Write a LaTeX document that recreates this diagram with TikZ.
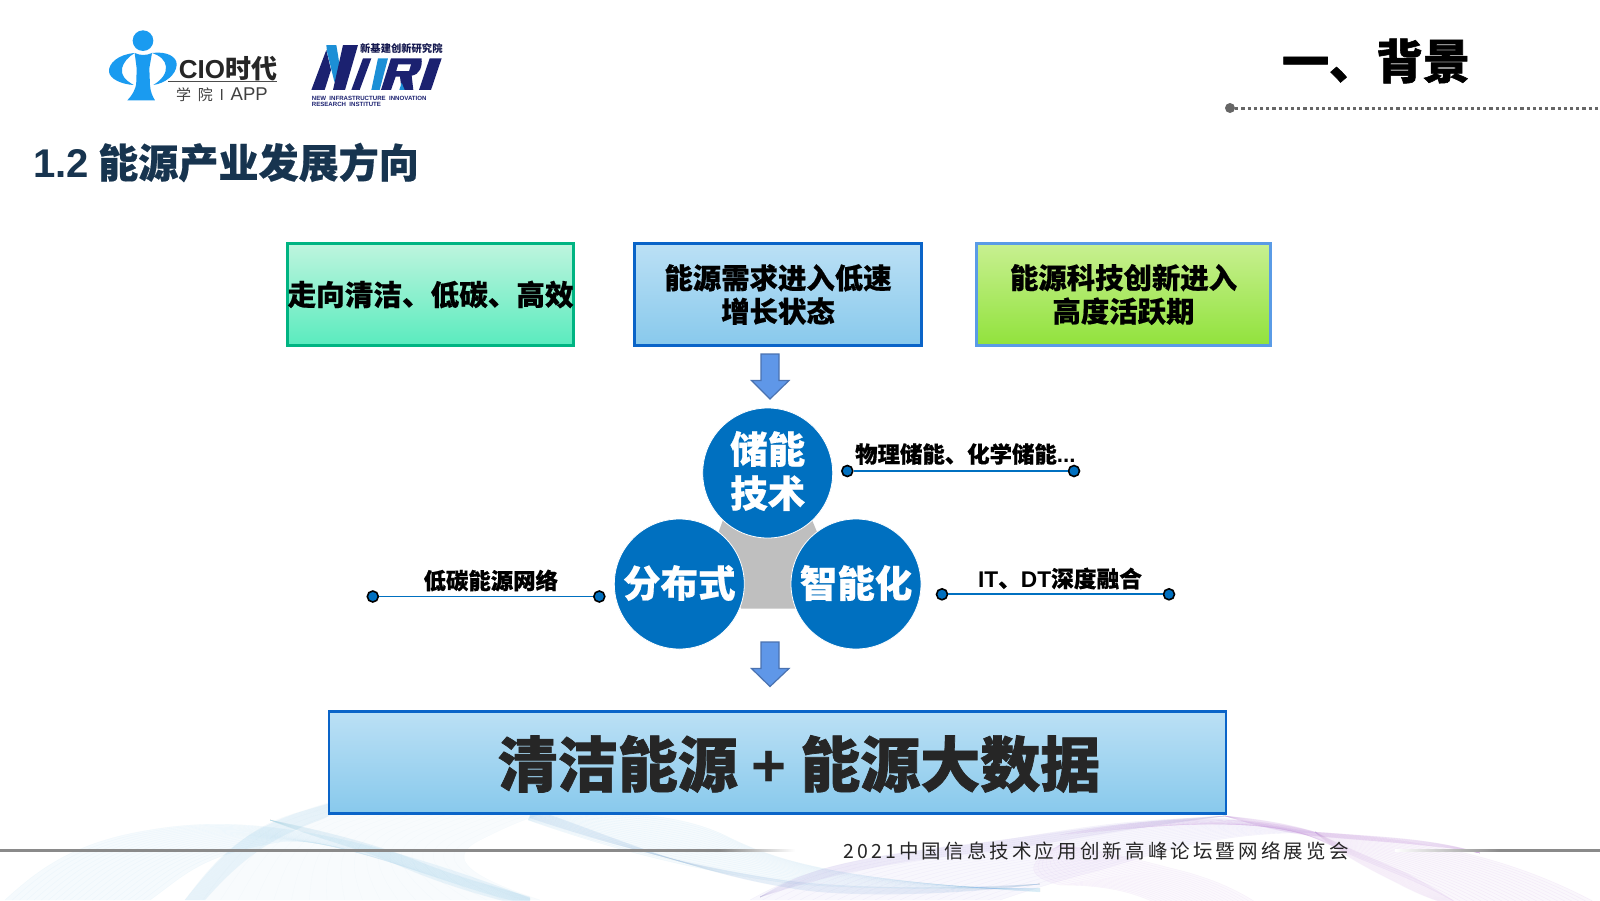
\documentclass[tikz,border=0pt]{standalone}
\usepackage{fontspec}
\usetikzlibrary{calc}
\setmainfont{Noto Sans CJK SC}
\newfontfamily\lat{Liberation Sans}
\newfontfamily\heavy{Noto Sans CJK SC}[BoldFeatures={FakeBold=1.2}]
\newfontfamily\semi{Noto Sans CJK SC}[BoldFeatures={FakeBold=.5}]
\newfontfamily\spaced{Noto Sans CJK SC}[LetterSpace=16]
\definecolor{navy}{HTML}{17344F}
\definecolor{cblue}{HTML}{0070C0}
\definecolor{logoblue}{HTML}{1A9BF0}
\definecolor{logonavy}{HTML}{1B2170}
\definecolor{logosky}{HTML}{1C8FD6}
\definecolor{wavea}{HTML}{7FC4EA}
\definecolor{waveb}{HTML}{A995E6}
\definecolor{wavec}{HTML}{C68FE0}
\definecolor{rulec}{HTML}{8A8A8A}
\definecolor{boxtopb}{HTML}{BBE0F5}
\definecolor{boxbotb}{HTML}{88C9EC}
\definecolor{boxedge}{HTML}{0A64C8}
\definecolor{arrowf}{HTML}{5F97E8}
\definecolor{arrowd}{HTML}{4A72B0}
\newcommand\curvepts[8]{%
  \coordinate (#1-1) at #2; \coordinate (#1-2) at #3; \coordinate (#1-3) at #4; \coordinate (#1-4) at #5;
  \coordinate (#1-5) at #6; \coordinate (#1-6) at #7; \coordinate (#1-7) at #8;}
% colour, curve a, curve b, fill opacity, line opacity
\newcommand\ribbon[5]{%
  \fill[#1,opacity=#4] (#2-1) .. controls (#2-2) and (#2-3) .. (#2-4) .. controls (#2-5) and (#2-6) .. (#2-7)
     -- (#3-7) .. controls (#3-6) and (#3-5) .. (#3-4) .. controls (#3-3) and (#3-2) .. (#3-1) -- cycle;
  \foreach \t in {0,0.05,...,1.001}{%
    \draw[#1,line width=.35pt,opacity=#5]
      ($(#2-1)!\t!(#3-1)$) .. controls ($(#2-2)!\t!(#3-2)$) and ($(#2-3)!\t!(#3-3)$) .. ($(#2-4)!\t!(#3-4)$)
      .. controls ($(#2-5)!\t!(#3-5)$) and ($(#2-6)!\t!(#3-6)$) .. ($(#2-7)!\t!(#3-7)$);}}
\tikzset{
  hd/.style={font=\semi\bfseries\fontsize{28.4}{34}\selectfont,align=center,inner sep=0pt},
  circ/.style={circle,fill=cblue,draw=white,line width=.8pt,minimum size=130pt,inner sep=0pt},
  circtext/.style={text=white,font=\semi\bfseries\fontsize{37.5}{45}\selectfont,align=center},
  lab/.style={font=\semi\bfseries\fontsize{22.4}{26}\selectfont,inner sep=0pt,text=black},
  dot/.style={circle,fill=cblue,draw=black,line width=1.6pt,minimum size=11pt,inner sep=0pt},
  dumb/.style={draw=cblue,line width=1.9pt},
  blockarrow/.style={fill=arrowf,draw=arrowd,line width=1.2pt,line join=miter},
  boxbase/.style={line width=2.6pt,minimum height=102pt,inner sep=0pt},
}
\begin{document}
\begin{tikzpicture}[x=1pt,y=-1pt]
\useasboundingbox (0,0) rectangle (1600,900);
\fill[white] (0,0) rectangle (1600,900);
\clip (0,0) rectangle (1600,900);

% ---- background waves: broad pale sheets
\curvepts{a1}{(5,900)}{(40,868)}{(75,842)}{(150,830)}{(220,818)}{(320,818)}{(530,898)}
\curvepts{a2}{(150,900)}{(185,875)}{(200,855)}{(280,842)}{(340,835)}{(440,885)}{(530,905)}
\ribbon{wavea}{a1}{a2}{.07}{.08}
\curvepts{b1}{(185,900)}{(222,855)}{(250,825)}{(300,812)}{(340,798)}{(400,782)}{(480,775)}
\curvepts{b2}{(540,900)}{(480,880)}{(440,860)}{(480,840)}{(500,830)}{(530,815)}{(560,810)}
\ribbon{wavea}{b1}{b2}{.05}{.04}
\curvepts{c1}{(530,815)}{(610,810)}{(680,812)}{(730,838)}{(780,862)}{(840,880)}{(1040,892)}
\curvepts{c2}{(528,820)}{(600,845)}{(680,868)}{(780,882)}{(830,889)}{(930,889)}{(1040,888)}
\ribbon{wavea}{c1}{c2}{.07}{.10}
\curvepts{e1}{(750,900)}{(800,872)}{(840,860)}{(950,847)}{(1050,836)}{(1100,818)}{(1225,818)}
\curvepts{e2}{(1000,900)}{(1030,890)}{(1060,880)}{(1100,870)}{(1150,855)}{(1220,830)}{(1320,833)}
\ribbon{waveb}{e1}{e2}{.07}{.10}
\curvepts{f1}{(1060,835)}{(1140,818)}{(1240,812)}{(1315,832)}{(1400,838)}{(1500,850)}{(1600,905)}
\curvepts{f2}{(1225,820)}{(1280,825)}{(1300,830)}{(1330,845)}{(1370,865)}{(1420,880)}{(1460,905)}
\ribbon{wavec}{f1}{f2}{.07}{.14}
\curvepts{g1}{(1060,845)}{(1100,850)}{(1140,860)}{(1170,868)}{(1200,875)}{(1230,885)}{(1260,905)}
\curvepts{g2}{(1060,845)}{(1030,860)}{(1020,875)}{(1060,885)}{(1100,885)}{(1130,890)}{(1160,905)}
\ribbon{wavec}{g1}{g2}{.06}{.10}
% ---- soft strands where the sheets gather
\curvepts{s1}{(185,900)}{(215,860)}{(240,832)}{(300,812)}{(320,806)}{(335,802)}{(350,797)}
\curvepts{s2}{(205,900)}{(240,860)}{(270,838)}{(320,820)}{(340,812)}{(345,804)}{(350,797)}
\ribbon{wavea}{s1}{s2}{.10}{.05}
\curvepts{s3}{(270,820)}{(320,830)}{(380,845)}{(420,862)}{(460,878)}{(500,888)}{(530,897)}
\curvepts{s4}{(270,820)}{(320,840)}{(360,848)}{(400,866)}{(450,888)}{(500,900)}{(530,908)}
\ribbon{wavea}{s3}{s4}{.10}{.05}
\curvepts{s5}{(530,818)}{(590,838)}{(670,862)}{(770,878)}{(830,888)}{(930,890)}{(1040,884)}
\curvepts{s6}{(530,808)}{(610,835)}{(690,872)}{(790,888)}{(830,896)}{(930,898)}{(1040,884)}
\ribbon{wavea!70!waveb}{s5}{s6}{.12}{.06}
\curvepts{s7}{(760,897)}{(800,872)}{(840,860)}{(950,846)}{(1040,837)}{(1100,822)}{(1225,816)}
\curvepts{s8}{(760,897)}{(815,880)}{(855,868)}{(950,856)}{(1040,847)}{(1100,832)}{(1225,816)}
\ribbon{waveb}{s7}{s8}{.08}{.05}
\curvepts{s9}{(1225,816)}{(1270,820)}{(1295,826)}{(1315,832)}{(1380,837)}{(1430,838)}{(1480,853)}
\curvepts{s10}{(1225,816)}{(1270,830)}{(1295,834)}{(1315,836)}{(1380,842)}{(1430,844)}{(1480,853)}
\ribbon{wavec}{s9}{s10}{.14}{.08}
\curvepts{s11}{(1315,832)}{(1350,850)}{(1390,865)}{(1410,875)}{(1425,883)}{(1440,892)}{(1456,902)}
\curvepts{s12}{(1315,832)}{(1340,855)}{(1375,872)}{(1395,882)}{(1410,890)}{(1425,897)}{(1441,902)}
\ribbon{wavec}{s11}{s12}{.10}{.05}

% ---- footer rule
\shade[left color=rulec,right color=rulec] (0,849) rectangle (720,851.2);
\shade[left color=rulec,right color=white] (720,849) rectangle (795,851.2);
\shade[left color=white,right color=rulec] (1395,849) rectangle (1500,851.2);
\shade[left color=rulec,right color=rulec] (1500,849) rectangle (1600,851.2);
\node[font=\spaced\fontsize{19.5}{22}\selectfont,text=black!85,inner sep=0pt,anchor=center] (footer) at (1096,851) {2021中国信息技术应用创新高峰论坛暨网络展览会};

% ---- CIO logo (coordinates of a 3x crop)
\begin{scope}[shift={(100,25)},x=.3333pt,y=-.3333pt]
  \fill[logoblue] (129,47) circle (31);
  \fill[logoblue] (104,84) .. controls (122,92) and (138,92) .. (156,84) -- (148,130) -- (150,180) .. controls (151,200) and (158,215) .. (165,226) -- (82,226) .. controls (95,212) and (108,195) .. (109,170) -- (110,130) -- cycle;
  \fill[logoblue] (104,84) .. controls (55,88) and (25,115) .. (27,140) .. controls (29,162) and (65,178) .. (101,180) .. controls (75,165) and (62,150) .. (66,130) .. controls (70,112) and (85,95) .. (104,84) -- cycle;
  \fill[logoblue] (156,84) .. controls (200,78) and (232,95) .. (230,120) .. controls (228,150) and (195,175) .. (160,180) .. controls (185,165) and (200,145) .. (198,125) .. controls (196,105) and (180,92) .. (156,84) -- cycle;
  \node[anchor=west,inner sep=0pt,text=black!85,font=\bfseries\fontsize{26}{30}\selectfont] (ciotext) at (236,130) {{\lat\bfseries CIO}时代};
  \draw[black!70,line width=1.3pt] (205,170) -- (530,170);
  \node[anchor=west,inner sep=0pt,text=black!75,font=\fontsize{15}{18}\selectfont] (cioapp) at (228,210) {学\ \ 院\ \ I\ \ {\lat\fontsize{18.5}{20}\selectfont APP}};
\end{scope}

% ---- NIIRI logo
\begin{scope}[shift={(305,35)},x=.3333pt,y=-.3333pt]
  \fill[logonavy] (19,165) -- (59,165) -- (78,105) -- (64,45) -- cycle;
  \fill[logosky] (64,30) -- (94,30) -- (112,140) -- (88,140) -- (66,50) -- cycle;
  \fill[logonavy] (114,30) -- (159,30) -- (120,165) -- (84,165) -- cycle;
  \fill[logonavy] (174,70) -- (199,70) -- (164,165) -- (139,165) -- cycle;
  \fill[logosky] (219,70) -- (249,70) -- (224,165) -- (199,165) -- cycle;
  \fill[logonavy] (258,70) -- (350,70) .. controls (352,95) and (345,118) .. (320,122) -- (325,165) -- (290,165) -- (285,125) -- (272,125) -- (258,165) -- (228,165) -- cycle;
  \fill[white] (280,88) -- (318,88) -- (312,108) -- (274,108) -- cycle;
  \fill[logosky] (283,165) -- (290,143) -- (299,165) -- cycle;
  \fill[logonavy] (374,70) -- (410,70) -- (378,165) -- (342,165) -- cycle;
  \node[anchor=west,inner sep=0pt,text=logonavy!70!black,font=\bfseries\fontsize{10.3}{12}\selectfont] (niiricn) at (165,42) {新基建创新研究院};
  \node[anchor=west,inner sep=0pt,text=logonavy,font=\lat\bfseries\fontsize{6.1}{7}\selectfont] (niirien) at (20,189) {NEW\ \ INFRASTRUCTURE\ \ INNOVATION};
  \node[anchor=west,inner sep=0pt,text=logonavy,font=\lat\bfseries\fontsize{6.1}{7}\selectfont] (niirien2) at (20,208) {RESEARCH\ \ INSTITUTE};
\end{scope}

% ---- titles
\node[inner sep=0pt,font=\heavy\bfseries\fontsize{47}{50}\selectfont] (title) at (1376,61) {一、背景};
\node[circle,fill=black!60,inner sep=0pt,minimum size=10pt] (tdot) at (1230,108) {};
\coordinate (tend) at (1600,108);
\draw[black!60,line width=3pt,dash pattern=on 3.1pt off 3.1pt] (tdot) -- (tend);
\node[anchor=west,inner sep=0pt,text=navy,font=\semi\bfseries\fontsize{40.1}{44}\selectfont] (head) at (33,162.5) {{\lat\bfseries 1.2} 能源产业发展方向};

% ---- top boxes
\node[boxbase,draw={rgb,255:red,0;green,180;blue,130},top color={rgb,255:red,190;green,245;blue,222},bottom color={rgb,255:red,90;green,235;blue,190},minimum width=286pt,hd,font=\semi\bfseries\fontsize{28.6}{34}\selectfont] (b1) at (430.6,294.5) {走向清洁、低碳、高效};
\node[boxbase,draw=boxedge,top color=boxtopb,bottom color=boxbotb,minimum width=287pt,hd] (b2) at (778,294.5) {能源需求进入低速\\[-.5pt]增长状态};
\node[boxbase,draw={rgb,255:red,90;green,155;blue,230},top color={rgb,255:red,200;green,240;blue,145},bottom color={rgb,255:red,145;green,226;blue,60},minimum width=294pt,hd] (b3) at (1123.5,294.5) {能源科技创新进入\\[-.5pt]高度活跃期};

% ---- centre
\fill[black!25] (719,531) -- (723,520) -- (812,520) -- (817,532) -- (795,608.5) -- (741,608.5) -- cycle;
\node[circ] (c1) at (767.7,473) {};
\node[circ] (c2) at (679.3,584) {};
\node[circ] (c3) at (856,584) {};
\node[circtext,inner sep=0pt] (c1t) at (767.7,471) {储能\\[-1pt]技术};
\node[circtext,inner sep=0pt] (c2t) at (679.3,583) {分布式};
\node[circtext,inner sep=0pt] (c3t) at (856,583) {智能化};

% ---- block arrows
\draw[blockarrow] (761,354) -- (779,354) -- (779,380.5) -- (789,380.5) -- (770,399) -- (751.5,380.5) -- (761,380.5) -- cycle;
\draw[blockarrow] (761,642) -- (779,642) -- (779,668.5) -- (789,668.5) -- (770,686.5) -- (751.5,668.5) -- (761,668.5) -- cycle;

% ---- labelled dumbbells
\node[dot] (d1a) at (847.3,471) {};
\node[dot] (d1b) at (1074,471) {};
\draw[dumb] (d1a) -- (d1b);
\node[dot] (d2a) at (372.8,596.5) {};
\node[dot] (d2b) at (599.3,596.5) {};
\draw[dumb] (d2a) -- (d2b);
\node[dot] (d3a) at (942,594.3) {};
\node[dot] (d3b) at (1169,594.3) {};
\draw[dumb] (d3a) -- (d3b);
\node[lab,anchor=west] (l1) at (855,454) {物理储能、化学储能{\lat\bfseries ...}};
\node[lab] (l2) at (490.8,580.5) {低碳能源网络};
\node[lab,font=\semi\bfseries\fontsize{22.7}{26}\selectfont] (l3) at (1060,578.5) {{\lat\bfseries IT}、{\lat\bfseries DT}深度融合};

% ---- bottom box
\node[boxbase,draw=boxedge,top color=boxtopb,bottom color=boxbotb,minimum width=897pt] (b4) at (777.5,762.5) {};
\node[inner sep=0pt,text=black!85,font=\heavy\bfseries\fontsize{60}{64}\selectfont] (b4t) at (799,764) {清洁能源 {\lat\bfseries +} 能源大数据};
\end{tikzpicture}
\end{document}
